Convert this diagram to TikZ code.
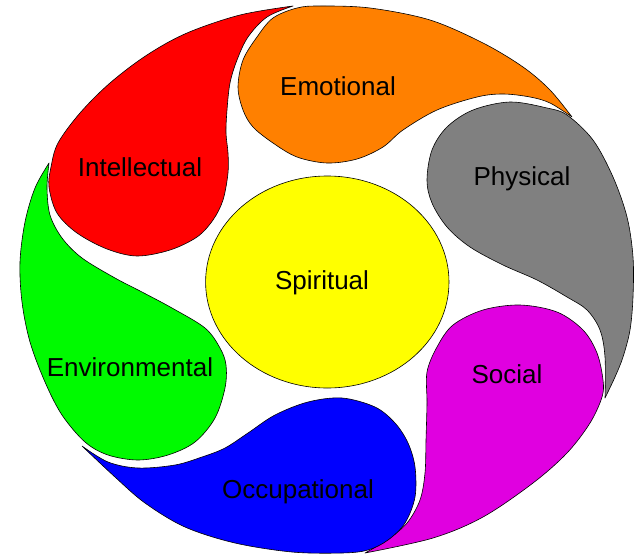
\documentclass[tikz,border=0pt]{standalone}
\usepackage{fontspec}
\setmainfont{Liberation Sans}
\definecolor{intelred}{RGB}{255,0,0}
\definecolor{emoorange}{RGB}{255,128,0}
\definecolor{physgray}{RGB}{128,128,128}
\definecolor{socmagenta}{RGB}{224,0,224}
\definecolor{occblue}{RGB}{0,0,255}
\definecolor{envgreen}{RGB}{0,250,0}
\definecolor{spiryellow}{RGB}{255,255,0}
\tikzset{petal/.style={draw=black, line width=0.6pt, line join=round}}
\tikzset{lbl/.style={font=\fontsize{26}{30}\selectfont, anchor=base, inner sep=0pt}}

\begin{document}
\begin{tikzpicture}[x=1pt, y=-1pt]
    \useasboundingbox (0,0) rectangle (639,554);

    % intellectual
    \draw[petal, fill=intelred] plot[smooth, tension=0.55] coordinates {(293,6) (267,17) (248,37) (237,60) (230,83) (227,110)
        (226,133) (228,153) (228,173) (223,200) (213,220) (197,237) (170,250) (137,256) (107,249) (77,233) (57,213)
        (49,187) (51,167) (58,143) (80,113) (110,83) (147,55) (187,33) (240,15) (293,6)} -- cycle;
    % emotional
    \draw[petal, fill=emoorange] plot[smooth, tension=0.55] coordinates {(572,117) (550,90) (523,67) (483,43) (430,20)
        (370,8) (320,6) (297,8) (273,18) (257,37) (243,60) (238,87) (243,110) (253,127) (273,143) (297,157) (327,163)
        (357,159) (383,147) (403,130) (437,110) (477,97) (503,94) (530,97) (550,103) (572,117)} -- cycle;
    % physical
    \draw[petal, fill=physgray] plot[smooth, tension=0.55] coordinates {(605,398) (605,357) (600,330) (587,310) (567,297)
        (537,280) (503,265) (470,247) (447,227) (432,203) (427,180) (432,150) (447,127) (473,110) (510,102) (547,108)
        (567,115) (593,140) (613,177) (627,217) (633,257) (633,297) (630,330) (623,357) (615,377) (605,398)} -- cycle;
    % social
    \draw[petal, fill=socmagenta] plot[smooth, tension=0.55] coordinates {(365,553) (387,540) (407,523) (420,500) (425,473)
        (426,440) (427,403) (427,372) (437,347) (453,325) (483,310) (520,305) (557,312) (583,330) (597,353) (603,380)
        (602,397) (590,423) (567,453) (533,483) (483,517) (433,538) (365,553)} -- cycle;
    % occupational
    \draw[petal, fill=occblue] plot[smooth, tension=0.55] coordinates {(82,446) (108,462) (138,468) (175,465) (202,457)
        (225,448) (248,433) (275,415) (308,402) (342,398) (375,407) (395,423) (408,443) (415,467) (415,497) (405,523)
        (388,540) (368,550) (342,553) (292,552) (235,543) (185,527) (145,503) (115,477) (82,446)} -- cycle;
    % environmental
    \draw[petal, fill=envgreen] plot[smooth, tension=0.55] coordinates {(49,163) (47,188) (50,215) (62,238) (82,258)
        (115,278) (142,292) (172,308) (205,328) (220,348) (226,365) (225,388) (215,418) (195,442) (168,455) (138,460)
        (108,455) (85,442) (62,415) (45,382) (30,342) (22,302) (20,262) (25,222) (35,188) (49,163)} -- cycle;
    % spiritual
    \draw[petal, fill=spiryellow] (327.3,282) ellipse [x radius=121.7, y radius=106];

    \node[lbl] (intel) at (140,176) {Intellectual};
    \node[lbl] (emo) at (338,95) {Emotional};
    \node[lbl] (phys) at (522,185) {Physical};
    \node[lbl] (spir) at (322,289) {Spiritual};
    \node[lbl] (env) at (130,376) {Environmental};
    \node[lbl] (soc) at (507,383) {Social};
    \node[lbl] (occ) at (298,498) {Occupational};
\end{tikzpicture}
\end{document}
